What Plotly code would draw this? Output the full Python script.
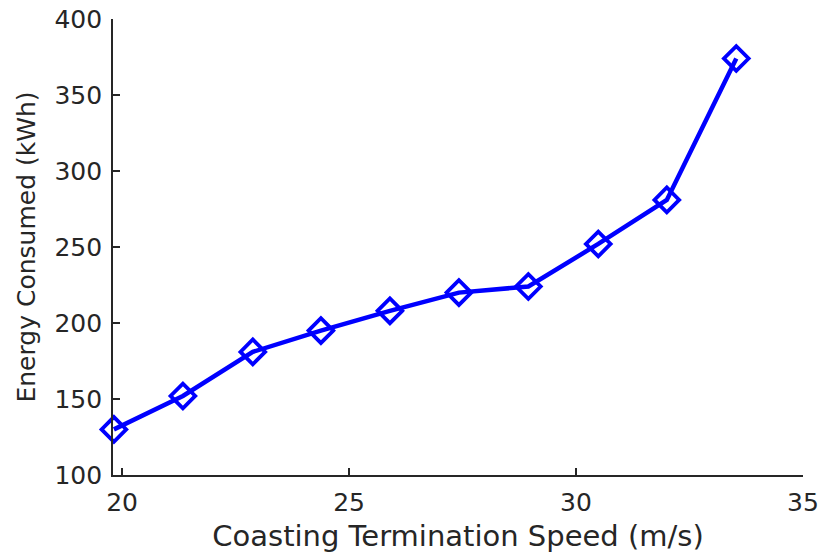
import plotly.graph_objects as go

speed = [19.82, 21.34, 22.88, 24.38, 25.90, 27.42, 28.95, 30.49, 32.00, 33.53]
energy = [130, 152, 181, 195, 208, 220, 224, 252, 281, 374]
x_ticks = [20, 25, 30, 35]
y_ticks = [100, 150, 200, 250, 300, 350, 400]

fig = go.Figure()
fig.add_trace(go.Scatter(
    x=speed, y=energy, mode="lines+markers",
    line=dict(color="#0000FF", width=4.5),
    marker=dict(symbol="diamond-open", size=19, color="#0000FF", line=dict(width=3.8, color="#0000FF")),
    cliponaxis=False,
))
fam = "DejaVu Sans, Liberation Sans, Arial, sans-serif"
tickfont = dict(family=fam, size=25, color="#262626")
fig.update_layout(
    width=822, height=556,
    margin=dict(l=113, r=19, t=19, b=81),
    paper_bgcolor="white", plot_bgcolor="white",
    showlegend=False,
    font=tickfont,
)
fig.update_xaxes(
    range=[19.8, 35], tickvals=x_ticks, ticks="inside", ticklen=7, tickwidth=1.8,
    tickcolor="#262626", showline=True, linecolor="#262626", linewidth=1.8,
    showgrid=False, zeroline=False, tickfont=tickfont, ticklabelstandoff=4,
    automargin=False,
    title=dict(text="Coasting Termination Speed (m/s)",
               font=dict(family=fam, size=29, color="#262626"), standoff=10),
)
fig.update_yaxes(
    range=[100, 400], tickvals=y_ticks, ticks="inside", ticklen=7, tickwidth=1.8,
    tickcolor="#262626", showline=True, linecolor="#262626", linewidth=1.8,
    showgrid=False, zeroline=False, tickfont=tickfont, ticklabelstandoff=4,
    automargin=False,
    title=dict(text="Energy Consumed (kWh)",
               font=dict(family=fam, size=25, color="#262626"), standoff=12),
)
fig.write_html("out.html")
